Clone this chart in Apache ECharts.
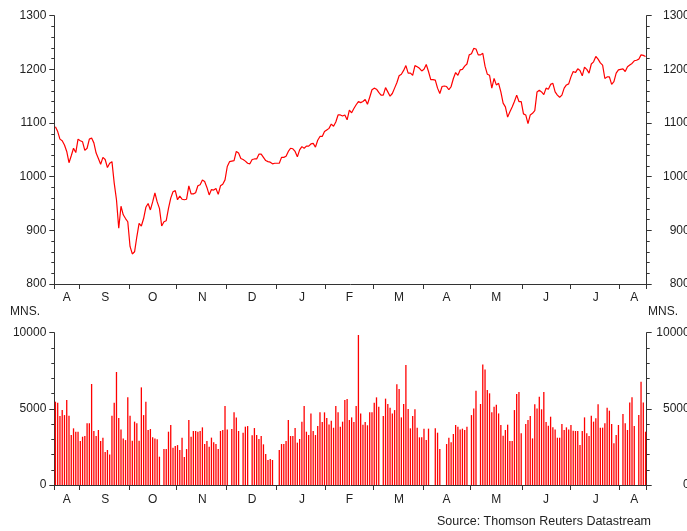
<!DOCTYPE html>
<html>
<head>
<meta charset="utf-8">
<script src="https://cdn.jsdelivr.net/npm/echarts@6/dist/echarts.min.js"></script>
<style>
html,body{margin:0;padding:0;background:#fff;}
#chart{width:687px;height:531px;}
</style>
</head>
<body>
<div id="chart"></div>
<script>
// Trading days (weekdays) from 17 Aug 2011 to 16 Aug 2012
const startDay = '2011-08-17';
const endDay = '2012-08-16';
const monthLetters = ['J','F','M','A','M','J','J','A','S','O','N','D'];

// Index level (daily)
const prices = [
1093,1084,1070,1067,1059,1047,1026,1039,1053,1045,
1070,1067,1065,1049,1053,1070,1072,1063,1044,1034,
1023,1036,1032,1017,1025,1028,988,957,904,945,
929,922,916,870,856,860,888,913,908,922,
943,950,938,953,970,953,941,908,916,918,
941,960,972,974,957,964,958,957,958,983,
968,968,970,983,985,994,991,980,966,976,
975,978,967,983,986,994,1019,1028,1029,1030,
1047,1044,1034,1032,1029,1025,1024,1032,1033,
1033,1042,1042,1036,1030,1028,1027,1024,1025,1025,
1025,1036,1036,1038,1047,1053,1052,1047,1037,1050,
1056,1053,1057,1057,1061,1062,1055,1068,1075,1075,
1084,1087,1090,1098,1094,1102,1115,1115,1113,1115,
1106,1124,1119,1127,1134,1140,1138,1140,1144,1135,
1148,1162,1165,1163,1157,1152,1152,1166,1158,1150,
1155,1165,1175,1188,1191,1198,1207,1193,1193,1189,
1207,1205,1202,1197,1200,1209,1196,1181,1181,1180,
1165,1155,1168,1169,1168,1162,
1168,1183,1194,1189,1199,1200,1206,1210,1227,1229,
1239,1238,1227,1227,1230,1206,1191,1189,1165,1183,
1171,1174,1158,1137,1130,1111,1121,1130,1140,1152,
1140,1140,1117,1115,1099,1115,1118,1123,1158,1161,
1158,1153,1165,1163,1172,1174,1158,1152,1148,1152,
1165,1171,1173,1186,1196,1194,1201,1198,1188,1204,
1200,1193,1210,1214,1224,1219,1212,1208,1183,1186,
1186,1172,1177,1193,1199,1200,1201,1196,1205,1208,
1211,1216,1217,1219,1227,1226,1224
];

// Turnover, millions (daily; null = no trading)
const volumes = [
5470,5400,4530,4920,4590,5580,4550,3280,3720,3500,
3500,2890,3170,3215,4050,4050,6630,3545,3215,3610,
2890,3110,2170,2300,2010,4550,5400,7420,4400,3650,
3060,2950,5755,4550,2910,4160,4050,2910,6410,4590,
5470,3610,3675,3130,3060,3000,1860,null,2360,2360,
3500,3940,2450,2560,2620,2300,3110,1840,2360,4266,
3170,3545,3545,3500,3545,3785,2690,2890,2515,3110,
2800,2690,2360,3545,3610,5185,3650,null,3675,4770,
4440,3545,null,3435,3830,3870,null,
3260,3740,3280,3020,3215,2670,2030,1640,1700,1640,
null,null,2300,2690,2690,2890,4266,3215,3215,3740,
2780,3020,4160,5185,3500,3280,4700,3545,3280,3870,
4770,4135,4770,4400,3980,4220,3760,5185,4770,3830,
4160,5580,5645,4266,4440,4135,5185,9850,4700,3960,
4135,3920,4770,4770,5405,5755,5140,null,4530,5670,
5320,5080,4700,4920,6610,6300,4440,5320,7880,4990,
3720,4530,4970,3760,3130,3130,3700,2950,3700,null,
null,3720,3435,2360,null,null,
2690,3110,2800,3350,3940,3830,3650,3700,3610,3830,
null,4590,5030,6190,null,5320,7920,7590,6240,6020,
4770,5140,5270,4700,3940,3240,3610,3960,2890,2890,
4920,5970,6100,3390,null,4000,4266,4530,3060,5295,
5030,5800,4970,6100,4135,3895,4485,3785,3650,3105,
3105,4005,3610,3785,3650,3940,3565,3545,3545,2625,
3545,4440,3390,3215,4550,4160,4376,5295,3765,3765,
4050,5075,4880,4005,2735,3280,3940,null,4660,4050,
3610,5425,5755,3870,null,4595,6780,5425,3500
];

// build category list of weekdays
const dates = [];
const months = [];
(function(){
  const d = new Date(startDay + 'T00:00:00');
  const e = new Date(endDay + 'T00:00:00');
  while (d <= e) {
    const wd = d.getDay();
    if (wd !== 0 && wd !== 6) {
      dates.push(d.getFullYear() + '-' + (d.getMonth()+1) + '-' + d.getDate());
      months.push(d.getMonth());
    }
    d.setDate(d.getDate() + 1);
  }
})();
const isMonthStart = i => i === 0 || months[i] !== months[i-1];
const labelIdx = {};
(function(){
  let s = 0;
  for (let i = 1; i <= months.length; i++) {
    if (i === months.length || months[i] !== months[i-1]) {
      labelIdx[Math.ceil((s + i - 1) / 2)] = true;
      s = i;
    }
  }
})();

const FONT = 'Liberation Sans, Arial, sans-serif';
const axisCol = '#333';
const txtCol = '#222';

function xAxisFor(gi, margin) {
  return {
    type: 'category', gridIndex: gi, data: dates, boundaryGap: true,
    axisLine: {show: true, lineStyle: {color: axisCol, width: 1}},
    axisTick: {show: true, inside: false, length: 5, interval: (i) => isMonthStart(i), lineStyle: {color: axisCol}},
    axisLabel: {show: true, interval: (i) => !!labelIdx[i], margin: margin,
      formatter: (v, i) => monthLetters[months[i]], color: txtCol, fontSize: 12, fontFamily: FONT},
    splitLine: {show: false}
  };
}
function yAxisFor(gi, pos, min, max, interval) {
  const right = pos === 'right';
  return {
    type: 'value', gridIndex: gi, position: pos, min: min, max: max, interval: interval,
    axisLine: {show: true, onZero: false, lineStyle: {color: axisCol, width: 1}},
    axisTick: {show: true, inside: false, length: 5, lineStyle: {color: axisCol}},
    minorTick: {show: true, splitNumber: 5, length: 3, lineStyle: {color: axisCol}},
    axisLabel: {show: true, color: txtCol, fontSize: 12, fontFamily: FONT,
      margin: right ? 43 : 8, align: 'right', formatter: (v) => String(v)},
    splitLine: {show: false}, minorSplitLine: {show: false}
  };
}

const chart = echarts.init(document.getElementById('chart'), null, {renderer: 'canvas'});
chart.setOption({
  animation: false,
  backgroundColor: '#fff',
  grid: [
    {left: 54.3, right: 40.3, top: 15.7, height: 268.3, containLabel: false, outerBoundsMode: 'none'},
    {left: 54.3, right: 40.3, top: 332.7, height: 152.3, containLabel: false, outerBoundsMode: 'none'}
  ],
  xAxis: [xAxisFor(0, 8), xAxisFor(1, 9)],
  yAxis: [
    yAxisFor(0, 'left', 800, 1300, 100),
    yAxisFor(0, 'right', 800, 1300, 100),
    yAxisFor(1, 'left', 0, 10000, 5000),
    yAxisFor(1, 'right', 0, 10000, 5000)
  ],
  series: [
    {type: 'line', xAxisIndex: 0, yAxisIndex: 0, data: prices, showSymbol: false,
      lineStyle: {color: '#ff0000', width: 1.2}, itemStyle: {color: '#ff0000'}},
    {type: 'bar', xAxisIndex: 1, yAxisIndex: 2, data: volumes, barWidth: 1.3,
      itemStyle: {color: '#ff0000'}}
  ],
  graphic: [
    {type: 'text', left: 10, top: 306, style: {text: 'MNS.', fill: txtCol, font: '12px ' + FONT}},
    {type: 'text', left: 648, top: 306, style: {text: 'MNS.', fill: txtCol, font: '12px ' + FONT}},
    {type: 'text', right: 36, top: 515, style: {text: 'Source: Thomson Reuters Datastream', fill: txtCol, font: '12.5px ' + FONT}}
  ]
});
</script>
</body>
</html>
